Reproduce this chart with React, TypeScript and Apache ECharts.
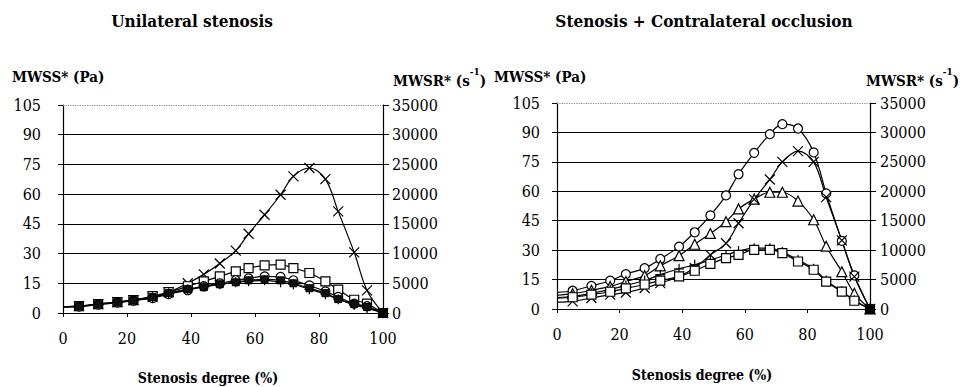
import React, { useEffect, useRef } from "react";
import * as echarts from "echarts";

const stenosis = [0, 5, 11, 17, 22, 28, 33, 39, 44, 49, 54, 58, 63, 68, 72, 77, 82, 86, 91, 95, 100];

const xTicks = [0, 20, 40, 60, 80, 100];
const mwssTicks = [0, 15, 30, 45, 60, 75, 90, 105];
const mwsrTicks = [0, 5000, 10000, 15000, 20000, 25000, 30000, 35000];

// Unilateral stenosis (values in Pa-equivalent scale of the left axis)
const uniCross = [3.2, 3.5, 4.5, 5.5, 6.5, 8, 10.5, 15, 19.5, 25, 31.5, 40, 49.6, 59.7, 69, 73.2, 67.6, 51.3, 30.6, 11.4, 0];
const uniSquare = [3.2, 3.5, 4.5, 5.5, 6.5, 8.5, 10.5, 13.5, 16, 18.5, 21, 22.7, 24, 24.4, 22.7, 20.2, 16, 11.8, 6.7, 4.7, 0];
const uniCircle = [3, 3.2, 4.2, 5.2, 6.2, 7.5, 9.5, 11.5, 13.5, 15, 16.5, 17.5, 18.5, 18.2, 16.5, 13.9, 10.9, 8.1, 4.7, 3.4, 0];
const uniPlus = [3.2, 3.5, 4.5, 5.5, 6.5, 8, 10, 12, 13.5, 14.5, 15.5, 16, 16.5, 15.5, 14.5, 12, 9.5, 7, 4, 2.5, 0];
const uniFilled = [3.2, 3.4, 4.4, 5.4, 6.4, 8, 10, 12, 13, 14.5, 15.5, 16.5, 17, 16.5, 15, 12.5, 10, 7, 4.5, 3, 0];

// Stenosis + contralateral occlusion
const occCircle = [8.5, 9.3, 11.8, 14.4, 17.8, 20.8, 25.5, 31.8, 39.1, 47.7, 57.9, 68.7, 79.6, 89.1, 94.2, 92, 79.8, 58.9, 34.7, 17.1, 0];
const occTriangle = [7, 7.8, 9.5, 11.5, 14, 17, 22, 27.2, 33, 38.5, 44.5, 51, 56, 59.5, 59.5, 55, 45.5, 32, 19, 8, 0];
const occCross = [3.5, 3.9, 5.6, 7.3, 8.4, 10.7, 13.2, 16.6, 21, 27.6, 33.5, 43.7, 55.9, 66, 75, 80.5, 75, 57, 35, 16.5, 0];
const occPlus = [5.8, 6.5, 8, 10, 12, 14.5, 17.5, 20.5, 22.5, 25, 27.5, 29.5, 31, 31, 29, 25, 20.5, 14.5, 9, 4.5, 0];
const occSquare = [5.5, 6, 7.3, 8.8, 10.5, 12.5, 14.5, 16.6, 19.5, 23, 25.9, 27.6, 30.1, 30.1, 28.5, 24.2, 20, 14, 8.9, 4.2, 0];

const FONT = "DejaVu Serif Condensed, DejaVu Serif";
const CROSS = "path://M0,0L10,10M10,0L0,10";
const PLUS = "path://M5,0L5,10M0,5L10,5";

function pts(vals: number[], endFilled = false) {
  return vals.map((v, i) => {
    const item: any = { value: [stenosis[i], v] };
    if (i === 0) item.symbol = "none";
    if (endFilled && i === vals.length - 1) {
      item.symbol = "rect";
      item.symbolSize = 9;
      item.itemStyle = { color: "#000", borderColor: "#000" };
    }
    return item;
  });
}

function line(name: string, vals: number[], grid: number, symbol: string, size: number, filled = false, endFilled = false) {
  return {
    name,
    type: "line",
    xAxisIndex: grid,
    yAxisIndex: grid * 2,
    data: pts(vals, endFilled),
    smooth: 0.35,
    symbol,
    symbolSize: size,
    showAllSymbol: true,
    lineStyle: { color: "#000", width: 1.2 },
    itemStyle: filled
      ? { color: "#111", borderColor: "#000", borderWidth: 1 }
      : { color: symbol.startsWith("path") ? "#000" : "#fff", borderColor: "#000", borderWidth: 1.2 },
    z: 3,
  };
}

function topLine(grid: number) {
  return {
    type: "line",
    xAxisIndex: grid,
    yAxisIndex: grid * 2,
    data: [],
    markLine: {
      silent: true,
      symbol: "none",
      label: { show: false },
      lineStyle: { color: "#888", type: "dotted", width: 1.2 },
      data: [{ yAxis: mwssTicks[mwssTicks.length - 1] }],
    },
  };
}

const labelStyle = { color: "#000", fontFamily: FONT, fontSize: 16 };

function xAxis(grid: number) {
  return {
    type: "value",
    gridIndex: grid,
    min: xTicks[0],
    max: xTicks[xTicks.length - 1],
    interval: xTicks[1] - xTicks[0],
    axisLine: { show: true, lineStyle: { color: "#000", width: 1.2 } },
    axisTick: { show: true, inside: false, length: 4, lineStyle: { color: "#000" } },
    axisLabel: { ...labelStyle, margin: 17 },
    splitLine: { show: false },
  };
}

function yLeft(grid: number, margin: number) {
  return {
    type: "value",
    gridIndex: grid,
    position: "left",
    min: mwssTicks[0],
    max: mwssTicks[mwssTicks.length - 1],
    interval: mwssTicks[1] - mwssTicks[0],
    axisLine: { show: true, lineStyle: { color: "#000", width: 1.2 } },
    axisTick: { show: true, inside: false, length: 5, lineStyle: { color: "#000" } },
    axisLabel: { ...labelStyle, margin },
    splitLine: {
      show: true,
      lineStyle: { color: ["#000", "#000", "#000", "#000", "#000", "#000", "#000", "transparent"], width: 1.2 },
    },
  };
}

function yRight(grid: number, margin: number) {
  return {
    type: "value",
    gridIndex: grid,
    position: "right",
    min: mwsrTicks[0],
    max: mwsrTicks[mwsrTicks.length - 1],
    interval: mwsrTicks[1] - mwsrTicks[0],
    axisLine: { show: true, lineStyle: { color: "#000", width: 1.2 } },
    axisTick: { show: true, inside: false, length: 6, lineStyle: { color: "#000" } },
    axisLabel: { ...labelStyle, margin, formatter: (v: number) => String(v) },
    splitLine: { show: false },
  };
}

function txt(text: string, x: number, y: number, size: number, align: string, rich = false) {
  const style: any = {
    text,
    x,
    y,
    fill: "#000",
    fontFamily: FONT,
    fontWeight: "bold",
    fontSize: size,
    align,
    verticalAlign: "middle",
  };
  if (rich) {
    style.rich = {
      b: { fontFamily: FONT, fontWeight: "bold", fontSize: size, lineHeight: 22, verticalAlign: "bottom" },
      sup: { fontFamily: FONT, fontWeight: "bold", fontSize: 10, lineHeight: 22, verticalAlign: "top" },
    };
  }
  return { type: "text", style, z: 10 };
}

export default function App() {
  const ref = useRef<HTMLDivElement>(null);
  useEffect(() => {
    if (!ref.current) return;
    const chart = echarts.init(ref.current, undefined, { renderer: "svg" });
    chart.setOption({
      animation: false,
      backgroundColor: "#fff",
      textStyle: { fontFamily: FONT },
      grid: [
        { left: 63, top: 105, width: 320, height: 208 },
        { left: 557, top: 103, width: 313, height: 206 },
      ],
      xAxis: [xAxis(0), xAxis(1)],
      yAxis: [yLeft(0, 22), yRight(0, 9), yLeft(1, 17), yRight(1, 10)],
      series: [
        topLine(0),
        line("Unilateral ×", uniCross, 0, CROSS, 10),
        line("Unilateral □", uniSquare, 0, "rect", 9),
        line("Unilateral ○", uniCircle, 0, "circle", 9),
        line("Unilateral +", uniPlus, 0, PLUS, 10),
        line("Unilateral ■", uniFilled, 0, "rect", 7, true, true),
        topLine(1),
        line("Occlusion ○", occCircle, 1, "circle", 9),
        line("Occlusion △", occTriangle, 1, "triangle", 10),
        line("Occlusion ×", occCross, 1, CROSS, 10),
        line("Occlusion +", occPlus, 1, PLUS, 10),
        line("Occlusion □", occSquare, 1, "rect", 9, false, true),
      ],
      graphic: [
        txt("Unilateral stenosis", 192, 21, 17, "center"),
        txt("Stenosis + Contralateral occlusion", 704, 21, 17, "center"),
        txt("MWSS* (Pa)", 12, 77, 15, "left"),
        txt("{b|MWSR* (s}{sup|-1}{b|)}", 393, 77, 15, "left", true),
        txt("MWSS* (Pa)", 494, 77, 15, "left"),
        txt("{b|MWSR* (s}{sup|-1}{b|)}", 866, 77, 15, "left", true),
        txt("Stenosis degree (%)", 208, 378, 14, "center"),
        txt("Stenosis degree (%)", 702, 375, 14, "center"),
      ],
    });
    return () => chart.dispose();
  }, []);
  return (
    <div style={{ position: "absolute", left: 0, top: 0, width: 976, height: 387, background: "#fff" }}>
      <div ref={ref} style={{ width: 976, height: 387 }} />
    </div>
  );
}
